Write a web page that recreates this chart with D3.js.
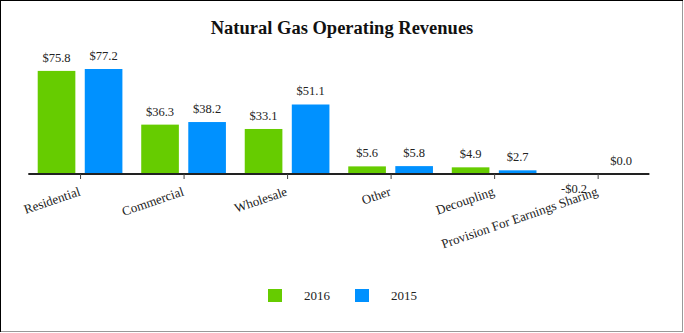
<!DOCTYPE html>
<html>
<head>
<meta charset="utf-8">
<script src="https://cdn.jsdelivr.net/npm/d3@7"></script>
<style>
  html, body { margin: 0; padding: 0; background: #fff; }
  svg { display: block; }
  text { font-family: "Liberation Serif", "Times New Roman", serif; fill: #222; }
</style>
</head>
<body>
<svg id="chart" width="684" height="333"></svg>
<script>
// Natural gas operating revenues by customer class ($ millions)
const categories = ["Residential", "Commercial", "Wholesale", "Other", "Decoupling", "Provision For Earnings Sharing"];
const seriesNames = ["2016", "2015"];
const values2016 = [75.8, 36.3, 33.1, 5.6, 4.9, -0.2];
const values2015 = [77.2, 38.2, 51.1, 5.8, 2.7, 0.0];
const colors = ["#66cc00", "#0091ff"];

const svg = d3.select("#chart");
const W = 684, H = 333;

// frame
svg.append("rect").attr("x", 0.5).attr("y", 0.5).attr("width", W - 2).attr("height", H - 2)
  .attr("fill", "#fff").attr("stroke", "#000").attr("stroke-width", 1);
svg.append("line").attr("x1", 1).attr("x2", W - 1).attr("y1", H - 1.5).attr("y2", H - 1.5)
  .attr("stroke", "#999").attr("stroke-width", 1);
svg.append("line").attr("x1", W - 1.5).attr("x2", W - 1.5).attr("y1", 1).attr("y2", H - 1)
  .attr("stroke", "#999").attr("stroke-width", 1);

svg.append("text").attr("x", 342).attr("y", 34).attr("text-anchor", "middle")
  .style("font-size", "18.5px").style("font-weight", "bold").style("fill", "#111")
  .text("Natural Gas Operating Revenues");

const plot = { left: 28.3, right: 649.4, baseline: 174 };

const x = d3.scaleBand().domain(categories).range([plot.left, plot.right]).padding(0);
const xs = d3.scaleBand().domain(seriesNames).range([0, x.bandwidth()]).paddingInner(0.2).paddingOuter(0.2);
const y = d3.scaleLinear().domain([0, 77.2]).range([plot.baseline, 69]);

const rows = categories.map((c, i) => ({ cat: c, vals: [values2016[i], values2015[i]] }));

const g = svg.append("g");
const groups = g.selectAll("g.cat").data(rows).join("g")
  .attr("class", "cat").attr("transform", d => `translate(${x(d.cat)},0)`);

const cells = groups.selectAll("g.bar").data(d => d.vals.map((v, k) => ({ v, k }))).join("g").attr("class", "bar");

cells.append("rect")
  .attr("x", d => xs(seriesNames[d.k]))
  .attr("width", xs.bandwidth())
  .attr("y", d => Math.min(y(d.v), y(0)))
  .attr("height", d => Math.abs(y(d.v) - y(0)))
  .attr("fill", d => colors[d.k]);

cells.append("text")
  .attr("x", d => xs(seriesNames[d.k]) + xs.bandwidth() / 2)
  .attr("y", d => d.v < 0 ? y(d.v) + 19 : y(d.v) - 9)
  .attr("text-anchor", "middle")
  .style("font-size", "12.5px")
  .text(d => (d.v < 0 ? "-$" : "$") + Math.abs(d.v).toFixed(1));

// category axis
const axis = d3.axisBottom(x).tickSize(5).tickSizeOuter(0);
const ax = svg.append("g").attr("transform", `translate(0,${plot.baseline})`).call(axis);
ax.select(".domain").attr("stroke", "#222").attr("stroke-width", 2)
  .attr("d", `M${plot.left},0H${plot.right}`);
ax.selectAll(".tick line").attr("stroke", "#444").attr("transform", "translate(0.5,0)");
ax.selectAll(".tick text")
  .style("font-size", "13px").style("font-family", "Liberation Serif, serif").attr("fill", "#222")
  .attr("text-anchor", "end")
  .attr("dy", null).attr("y", 0)
  .attr("transform", "translate(1,21) rotate(-19)");

// legend
const legend = svg.append("g");
const lx = [268, 355];
seriesNames.forEach((s, i) => {
  legend.append("rect").attr("x", lx[i]).attr("y", 289).attr("width", 14).attr("height", 13).attr("fill", colors[i]);
  legend.append("text").attr("x", lx[i] + 36).attr("y", 300).style("font-size", "13px").text(s);
});
</script>
</body>
</html>
